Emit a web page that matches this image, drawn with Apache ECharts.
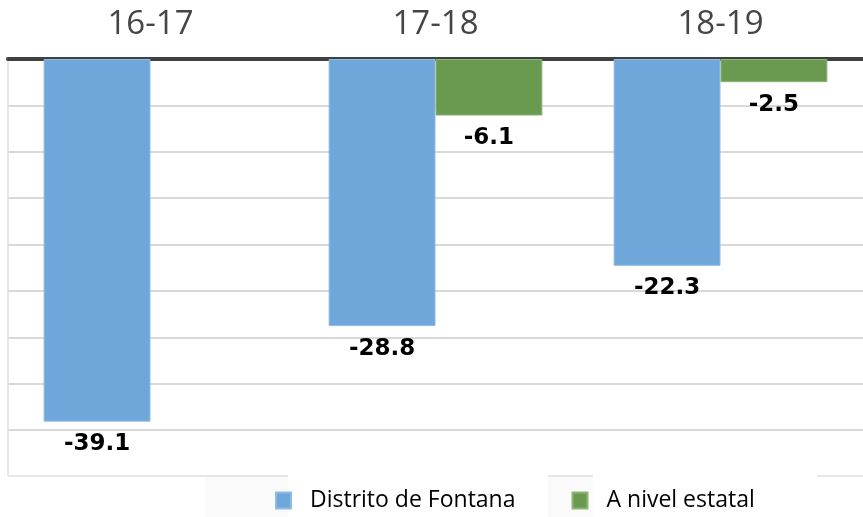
<!DOCTYPE html>
<html>
<head>
<meta charset="utf-8">
<script src="https://cdn.jsdelivr.net/npm/echarts@6/dist/echarts.min.js"></script>
<style>
  html, body { margin: 0; padding: 0; background: #fff; }
  #chart { width: 863px; height: 517px; }
</style>
</head>
<body>
<div id="chart"></div>
<script>
// datos
var years = ['16-17', '17-18', '18-19'];
var fontana = [-39.1, -28.8, -22.3];
var estatal = ['-', -6.1, -2.5];
var seriesNames = ['Distrito de Fontana', 'A nivel estatal'];

var chart = echarts.init(document.getElementById('chart'));

var labelStyle = {
  show: true,
  position: 'bottom',
  distance: 11,
  fontFamily: 'DejaVu Sans',
  fontWeight: 'bold',
  fontSize: 23,
  color: '#000'
};

var option = {
  backgroundColor: '#fff',
  animation: false,
  grid: { left: 8, top: 59, width: 862, height: 371, containLabel: false },
  legend: {
    data: seriesNames,
    left: 275,
    top: 489,
    padding: 0,
    itemWidth: 15,
    itemHeight: 16,
    itemGap: 56,
    icon: 'rect',
    textStyle: {
      fontFamily: 'Open Sans',
      fontSize: 23,
      color: '#000',
      padding: [0, 0, 0, 14]
    }
  },
  xAxis: {
    type: 'category',
    position: 'top',
    data: years,
    axisLine: { show: true, lineStyle: { color: '#404040', width: 4 } },
    axisTick: { show: false },
    axisLabel: { fontFamily: 'Open Sans', fontSize: 33, color: '#454545', margin: 18 }
  },
  yAxis: {
    type: 'value',
    min: -40,
    max: 0,
    interval: 5,
    axisLine: { show: false },
    axisTick: { show: false },
    axisLabel: { show: false },
    splitLine: { lineStyle: { color: '#d9d9d9', width: 2 } }
  },
  graphic: [
    { type: 'line', z: 0, shape: { x1: 8, y1: 59, x2: 8, y2: 476 }, style: { stroke: '#e6e6e6', lineWidth: 2 } },
    { type: 'line', z: 0, shape: { x1: 8, y1: 476, x2: 288, y2: 476 }, style: { stroke: '#e6e6e6', lineWidth: 2 } },
    { type: 'line', z: 0, shape: { x1: 548, y1: 476, x2: 593, y2: 476 }, style: { stroke: '#e6e6e6', lineWidth: 2 } },
    { type: 'line', z: 0, shape: { x1: 817, y1: 476, x2: 863, y2: 476 }, style: { stroke: '#e6e6e6', lineWidth: 2 } },
    { type: 'rect', z: 0, shape: { x: 205, y: 477, width: 83, height: 40 }, style: { fill: '#fafafa' } },
    { type: 'rect', z: 0, shape: { x: 548, y: 477, width: 45, height: 40 }, style: { fill: '#fafafa' } }
  ],
  series: [
    {
      name: seriesNames[0],
      type: 'bar',
      data: fontana,
      barGap: '0%',
      barCategoryGap: '25%',
      itemStyle: { color: '#70a7da', borderColor: '#8dbbe6', borderWidth: 1 },
      label: labelStyle
    },
    {
      name: seriesNames[1],
      type: 'bar',
      data: estatal,
      itemStyle: { color: '#6a9a50', borderColor: '#8cb577', borderWidth: 1 },
      label: labelStyle
    }
  ]
};
chart.setOption(option);
</script>
</body>
</html>
